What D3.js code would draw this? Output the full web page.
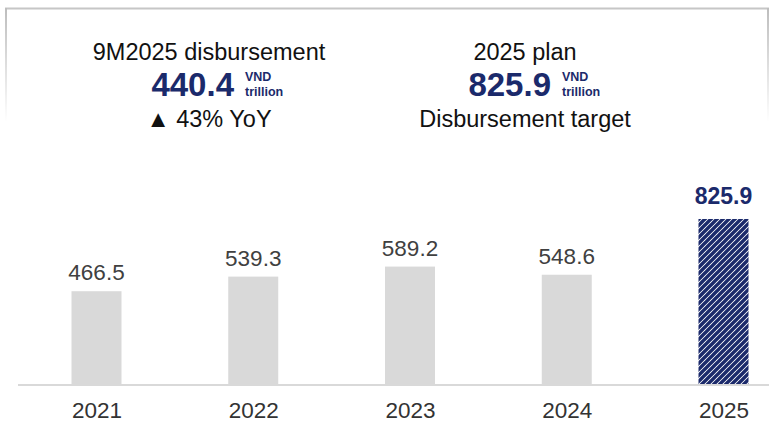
<html>
<head>
<meta charset="utf-8">
<title></title>
<style>
  body { margin: 0; background: #fff; }
  text { font-family: "Liberation Sans", Arial, sans-serif; }
</style>
</head>
<body>
<svg id="chart" width="769" height="424"></svg>
<script src="https://cdn.jsdelivr.net/npm/d3@7"></script>
<script>
// disbursement by year, VND trillion
var years = ["2021", "2022", "2023", "2024", "2025"];
var values = [466.5, 539.3, 589.2, 548.6, 825.9];
var planYear = "2025";

// header blocks
var headTitles = ["9M2025 disbursement", "2025 plan"];
var headNumbers = ["440.4", "825.9"];
var headNotes = ["\u25B2 43% YoY", "Disbursement target"];
var unitLines = ["VND", "trillion"];

var navy = "#1b2a6b";
var svg = d3.select("#chart");

// hatch for the plan bar
var defs = svg.append("defs");
var pat = defs.append("pattern")
    .attr("id", "hatch")
    .attr("patternUnits", "userSpaceOnUse")
    .attr("width", 6).attr("height", 6);
pat.append("rect").attr("width", 6).attr("height", 6).attr("fill", "#fff");
pat.append("path")
    .attr("d", "M-1,1 l2,-2 M0,6 l6,-6 M5,7 l2,-2")
    .attr("stroke", navy).attr("stroke-width", 3.4);

// fading frame round the header
var fade = defs.append("linearGradient")
    .attr("id", "fade").attr("x1", 0).attr("y1", 0).attr("x2", 0).attr("y2", 1);
fade.append("stop").attr("offset", "0%").attr("stop-color", "#bdbdbd");
fade.append("stop").attr("offset", "100%").attr("stop-color", "#fff");

svg.append("line").attr("x1", 5).attr("x2", 769).attr("y1", 8.5).attr("y2", 8.5)
    .attr("stroke", "#c6c6c6").attr("stroke-width", 2);
svg.append("rect").attr("x", 5).attr("y", 8).attr("width", 2).attr("height", 114).attr("fill", "url(#fade)");
svg.append("rect").attr("x", 767).attr("y", 8).attr("width", 2).attr("height", 114).attr("fill", "url(#fade)");

// header texts
var headX = [209, 525];
var numEnd = [234, 551];
var g = svg.selectAll(".head").data(headTitles).enter().append("g").attr("class", "head");
g.append("text")
    .attr("x", function(d, i) { return headX[i]; })
    .attr("y", 60)
    .attr("text-anchor", "middle")
    .attr("font-size", 23.5)
    .attr("fill", "#111")
    .text(function(d) { return d; });
g.append("text")
    .attr("x", function(d, i) { return numEnd[i]; })
    .attr("y", 96)
    .attr("text-anchor", "end")
    .attr("font-size", 33)
    .attr("font-weight", "bold")
    .attr("fill", navy)
    .text(function(d, i) { return headNumbers[i]; });
unitLines.forEach(function(u, k) {
    g.append("text")
        .attr("x", function(d, i) { return numEnd[i] + 11; })
        .attr("y", k == 0 ? 81 : 96)
        .attr("font-size", 12.5)
        .attr("font-weight", "bold")
        .attr("fill", navy)
        .text(u);
});
g.append("text")
    .attr("x", function(d, i) { return headX[i]; })
    .attr("y", 127)
    .attr("text-anchor", "middle")
    .attr("font-size", 23.5)
    .attr("fill", "#111")
    .text(function(d, i) { return headNotes[i]; });

// bars
var x = d3.scalePoint().domain(years).range([96.5, 723.5]);
var y = d3.scaleLinear().domain([0, 1000]).range([385, 184]);
var barW = 50;

svg.selectAll(".bar")
    .data(years)
    .enter()
    .append("rect")
    .attr("class", "bar")
    .attr("x", function(d) { return x(d) - barW / 2; })
    .attr("y", function(d, i) { return y(values[i]); })
    .attr("width", barW)
    .attr("height", function(d, i) { return y(0) - y(values[i]); })
    .attr("fill", function(d) { return d == planYear ? "url(#hatch)" : "#d9d9d9"; });

svg.selectAll(".val")
    .data(years)
    .enter()
    .append("text")
    .attr("class", "val")
    .attr("x", function(d) { return x(d); })
    .attr("y", function(d, i) { return y(values[i]) - (d == planYear ? 15 : 11); })
    .attr("text-anchor", "middle")
    .attr("font-size", function(d) { return d == planYear ? 23 : 22.5; })
    .attr("font-weight", function(d) { return d == planYear ? "bold" : "normal"; })
    .attr("fill", function(d) { return d == planYear ? navy : "#404040"; })
    .text(function(d, i) { return values[i].toFixed(1); });

// x axis
var axis = svg.append("g")
    .attr("transform", "translate(0,385)")
    .call(d3.axisBottom(x).tickSize(0));
axis.select(".domain").remove();
axis.append("line").attr("x1", 18).attr("x2", 769).attr("y1", 0).attr("y2", 0)
    .attr("stroke", "#d9d9d9").attr("stroke-width", 2);
axis.selectAll(".tick text")
    .attr("y", 33)
    .attr("dy", null)
    .attr("font-family", "Liberation Sans, Arial, sans-serif")
    .attr("font-size", 22.5)
    .attr("fill", "#333");
</script>
</body>
</html>
